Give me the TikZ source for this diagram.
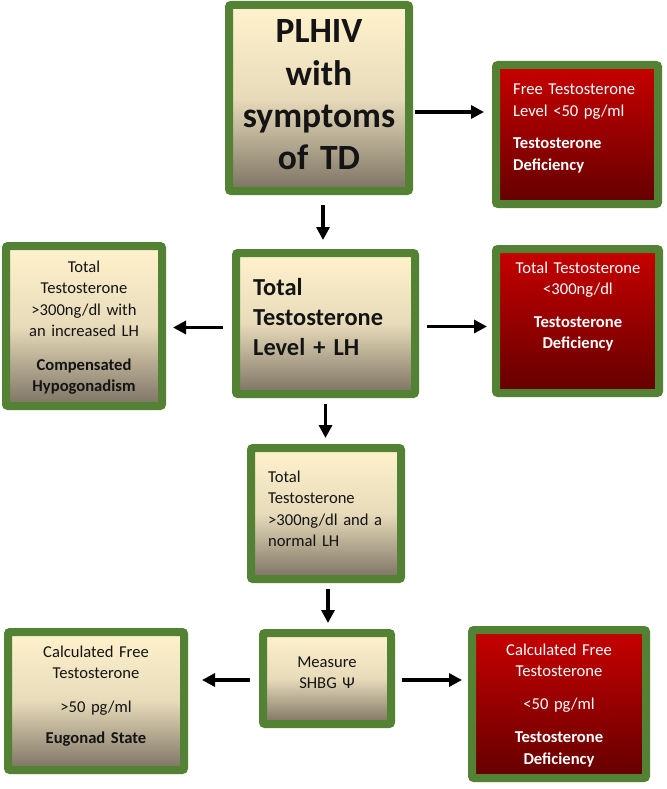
\documentclass[tikz,border=0pt]{standalone}
\usepackage{fontspec}
\setmainfont{Carlito}[WordSpace=0.8]
\usetikzlibrary{arrows.meta}
\definecolor{grn}{HTML}{548235}
\definecolor{cream}{HTML}{FFF2CC}
\definecolor{creammid}{HTML}{E8DBBA}
\definecolor{taupe}{HTML}{7B7262}
\definecolor{redtop}{HTML}{C80000}
\definecolor{redbot}{HTML}{640000}
\definecolor{ink}{HTML}{141414}
\tikzset{
  box/.style={draw=grn, line width=8pt, rounded corners=2pt, inner sep=0pt},
  beige/.style={box, top color=cream, bottom color=taupe, middle color=creammid},
  redbox/.style={box, top color=redtop, bottom color=redbot},
  txt/.style={inner sep=0pt, anchor=base, align=center, text=ink},
  ltxt/.style={inner sep=0pt, anchor=base west, align=left, text=ink},
  small/.style={font=\fontsize{16.6}{21.5}\selectfont},
  arr/.style={line width=3.5pt, draw=black, -{Triangle[length=13pt,width=13pt]}},
}
\begin{document}
\begin{tikzpicture}[x=1pt,y=-1pt]
\fill[white] (0,0) rectangle (666,789);
\useasboundingbox (0,0) rectangle (666,789);

% boxes
\node[beige, minimum width=180pt, minimum height=186pt] (b1) at (319,98) {};
\node[redbox, minimum width=162pt, minimum height=139pt] (b2) at (577,134.5) {};
\node[beige, minimum width=179pt, minimum height=141pt] (b3) at (325.5,323.5) {};
\node[beige, minimum width=156pt, minimum height=160pt] (b4) at (84,326) {};
\node[redbox, minimum width=163pt, minimum height=144pt] (b5) at (577.5,321) {};
\node[beige, minimum width=150pt, minimum height=131pt] (b6) at (326,513.5) {};
\node[beige, minimum width=176pt, minimum height=138pt] (b7) at (96,701) {};
\node[beige, minimum width=128pt, minimum height=91pt] (b8) at (327,678.5) {};
\node[redbox, minimum width=174pt, minimum height=148pt] (b9) at (559,704) {};

% texts
\node[txt, text width=176pt, font=\fontsize{35.5}{42.3}\selectfont\bfseries] (t1) at (319,43)
  {PLHIV\\with\\symptoms\\of TD};
\node[ltxt, small, text width=145pt, text=white] (t2) at (513,95)
  {Free Testosterone\\Level <50 pg/ml\\[11pt]\textbf{Testosterone}\\\textbf{Deficiency}};
\node[ltxt, text width=160pt, font=\fontsize{24.4}{30}\selectfont\bfseries] (t3) at (253,295)
  {Total\\Testosterone\\Level + LH};
\node[txt, small, text width=150pt] (t4) at (84,272)
  {Total\\Testosterone\\>300ng/dl with\\an increased LH\\[12pt]\textbf{Compensated}\\\textbf{Hypogonadism}};
\node[txt, small, text width=160pt, text=white] (t5) at (578,273)
  {Total Testosterone\\<300ng/dl\\[11pt]\textbf{Testosterone}\\\textbf{Deficiency}};
\node[ltxt, small, text width=135pt] (t6) at (268,482)
  {Total\\Testosterone\\>300ng/dl and a\\normal LH};
\node[txt, small, text width=170pt] (t7) at (96,657)
  {Calculated Free\\Testosterone\\[12pt]>50 pg/ml\\[10pt]\textbf{Eugonad State}};
\node[txt, small, text width=120pt] (t8) at (327,667)
  {Measure\\SHBG Ψ};
\node[txt, small, text width=170pt, text=white] (t9) at (559,655)
  {Calculated Free\\Testosterone\\[11.5pt]<50 pg/ml\\[11.5pt]\textbf{Testosterone}\\\textbf{Deficiency}};

% connectors
\coordinate (a1s) at ([yshift=-14pt]b1.east);
\draw[arr, shorten <=2pt, shorten >=8pt] (a1s) -- (a1s -| b2.west);
\coordinate (a2s) at ([xshift=4pt]b1.south);
\draw[arr, shorten <=10pt, shorten >=9pt] (a2s) -- (a2s |- b3.north);
\coordinate (a3s) at ([yshift=-4pt]b3.west);
\draw[arr, shorten <=9pt, shorten >=7pt] (a3s) -- (a3s -| b4.east);
\coordinate (a4s) at ([yshift=-3pt]b3.east);
\draw[arr, shorten <=8pt, shorten >=5pt] (a4s) -- (a4s -| b5.west);
\coordinate (a5s) at (b3.south);
\draw[arr, shorten <=6pt, shorten >=6pt] (a5s) -- (a5s |- b6.north);
\coordinate (a6s) at ([xshift=2pt]b6.south);
\draw[arr, shorten <=6pt, shorten >=6pt] (a6s) -- (a6s |- b8.north);
\coordinate (a7s) at ([yshift=-1.5pt]b8.west);
\draw[arr, shorten <=9pt, shorten >=14pt] (a7s) -- (a7s -| b7.east);
\coordinate (a8s) at ([yshift=-1.5pt]b8.east);
\draw[arr, shorten <=7pt, shorten >=6pt] (a8s) -- (a8s -| b9.west);
\end{tikzpicture}
\end{document}
